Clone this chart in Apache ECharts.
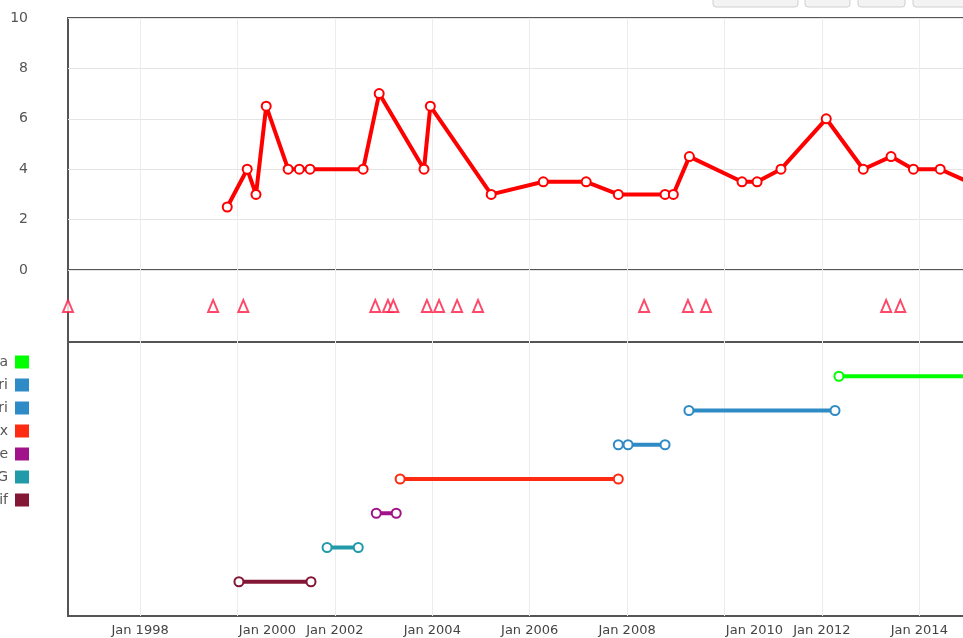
<!DOCTYPE html>
<html>
<head>
<meta charset="utf-8">
<title>timeline</title>
<script src="https://cdn.jsdelivr.net/npm/echarts@6/dist/echarts.min.js"></script>
<style>
  html, body { margin: 0; padding: 0; background: #fff; }
  #main { width: 963px; height: 638px; }
</style>
</head>
<body>
<div id="main"></div>
<script>
  // axis range in decimal years
  const X_MIN = 1996.52
  const X_MAX = 2016.13
  const TICK_YEARS = [1998, 2000, 2002, 2004, 2006, 2008, 2010, 2012, 2014]

  // top panel: the red line
  const LINE_YEARS = [1999.79, 2000.20, 2000.38, 2000.59, 2001.04, 2001.27, 2001.49, 2002.58, 2002.91,
    2003.83, 2003.96, 2005.21, 2006.28, 2007.16, 2007.82, 2008.78, 2008.95, 2009.28, 2010.36,
    2010.67, 2011.16, 2012.09, 2012.85, 2013.42, 2013.88, 2014.43, 2015.58]
  const LINE_VALUES = [2.5, 4, 3, 6.5, 4, 4, 4, 4, 7,
    4, 6.5, 3, 3.5, 3.5, 3, 3, 3, 4.5, 3.5,
    3.5, 4, 6, 4, 4.5, 4, 4, 3]

  // middle panel: events
  const EVENT_YEARS = [1996.52, 1999.50, 2000.12, 2002.83, 2003.09, 2003.20, 2003.89, 2004.14,
    2004.51, 2004.94, 2008.35, 2009.25, 2009.62, 2013.32, 2013.61]

  // bottom panel: periods, top row first
  const SPAN_NAMES = ['Opera', 'Safari', 'Atari', 'Firefox', 'Chrome', 'SVG', 'Motif']
  const SPAN_POINTS = [
    [2012.35, 2016.6],
    [2009.27, 2012.27],
    [2007.82, 2008.02, 2008.78],
    [2003.34, 2007.82],
    [2002.85, 2003.26],
    [2001.84, 2002.48],
    [2000.03, 2001.51]
  ]
  const SPAN_COLORS = ['#00ff00', '#2f8bc6', '#2f8bc6', '#ff2a12', '#a0138a', '#219aaa', '#841636']

  const font = 'DejaVu Sans'
  const splitStyle = { lineStyle: { color: '#ececec', width: 1 } }

  function xAxis(idx, withLabels) {
    return {
      type: 'value',
      gridIndex: idx,
      min: X_MIN,
      max: X_MAX,
      axisLine: { show: false },
      axisTick: { show: false, customValues: TICK_YEARS },
      splitLine: Object.assign({ show: true }, splitStyle),
      axisLabel: {
        show: withLabels,
        customValues: TICK_YEARS,
        margin: 8,
        color: '#444',
        fontFamily: font,
        fontSize: 13,
        formatter: function (v) {
          // the 2000 and 2010 labels sit a bit to the right in the picture
          if (v === 2000 || v === 2010) return '{s|Jan ' + v + '}'
          return 'Jan ' + v
        },
        rich: { s: { padding: [0, 0, 0, 60], color: '#444', fontFamily: font, fontSize: 13 } }
      }
    }
  }

  // the plot runs past the right edge of the window
  const gridBase = {
    left: 68, width: 955, outerBoundsMode: 'none', containLabel: false,
    show: true, borderColor: '#555', borderWidth: 2
  }

  const series = [
    {
      type: 'line',
      xAxisIndex: 0,
      yAxisIndex: 0,
      data: LINE_YEARS.map((x, i) => [x, LINE_VALUES[i]]),
      color: '#ff0000',
      lineStyle: { width: 4, color: '#ff0000' },
      symbol: 'circle',
      symbolSize: 9,
      itemStyle: { color: '#fff', borderColor: '#ff0000', borderWidth: 2 },
      z: 5
    },
    {
      type: 'scatter',
      xAxisIndex: 1,
      yAxisIndex: 1,
      clip: false,
      data: EVENT_YEARS.map(x => [x, 1]),
      symbol: 'triangle',
      symbolSize: [10, 12],
      itemStyle: { color: '#fff', borderColor: '#ff1a44', borderWidth: 2 }
    }
  ]

  SPAN_NAMES.forEach((name, i) => {
    const row = SPAN_NAMES.length - i
    series.push({
      name: name,
      type: 'line',
      xAxisIndex: 2,
      yAxisIndex: 2,
      data: SPAN_POINTS[i].map(x => [x, row]),
      color: SPAN_COLORS[i],
      lineStyle: { width: 4, color: SPAN_COLORS[i] },
      symbol: 'circle',
      symbolSize: 9,
      itemStyle: { color: '#fff', borderColor: SPAN_COLORS[i], borderWidth: 2 }
    })
  })

  const option = {
    animation: false,
    backgroundColor: '#fff',
    textStyle: { fontFamily: font },
    grid: [
      Object.assign({ top: 18, height: 252 }, gridBase),
      Object.assign({ top: 270, height: 72 }, gridBase),
      Object.assign({ top: 342, height: 274 }, gridBase)
    ],
    xAxis: [xAxis(0, false), xAxis(1, false), xAxis(2, true)],
    yAxis: [
      {
        type: 'value',
        gridIndex: 0,
        min: 0,
        max: 10,
        interval: 2,
        axisLine: { show: false },
        axisTick: { show: false },
        splitLine: { lineStyle: { color: '#e4e4e4' } },
        axisLabel: { margin: 40, color: '#555', fontFamily: font, fontSize: 14 }
      },
      { type: 'value', gridIndex: 1, min: 0, max: 2, show: false },
      { type: 'value', gridIndex: 2, min: 0, max: 8, show: false }
    ],
    legend: {
      orient: 'vertical',
      align: 'right',
      right: 934,
      top: 355,
      padding: 0,
      icon: 'rect',
      itemWidth: 14,
      itemHeight: 13,
      itemGap: 9,
      selectedMode: false,
      textStyle: { color: '#555', fontFamily: font, fontSize: 14, lineHeight: 13, padding: [0, 2, 0, 0] },
      data: SPAN_NAMES.map((n, i) => ({ name: n, itemStyle: { color: SPAN_COLORS[i], borderWidth: 0 } }))
    },
    graphic: [
      { type: 'rect', shape: { x: 713, y: -14, width: 85, height: 21, r: 3 }, style: { fill: '#f3f3f3', stroke: '#cfcfcf' } },
      { type: 'rect', shape: { x: 805, y: -14, width: 45, height: 21, r: 3 }, style: { fill: '#f3f3f3', stroke: '#cfcfcf' } },
      { type: 'rect', shape: { x: 858, y: -14, width: 47, height: 21, r: 3 }, style: { fill: '#f3f3f3', stroke: '#cfcfcf' } },
      { type: 'rect', shape: { x: 913, y: -14, width: 60, height: 21, r: 3 }, style: { fill: '#f3f3f3', stroke: '#cfcfcf' } }
    ],
    series: series
  }

  const myChart = echarts.init(document.getElementById('main'))
  myChart.setOption(option, true)
</script>
</body>
</html>
